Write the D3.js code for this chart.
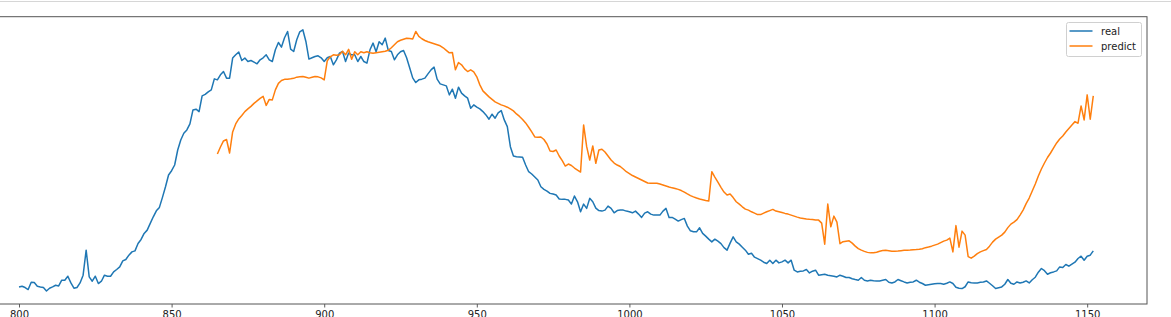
<!DOCTYPE html>
<html>
<head>
<meta charset="utf-8">
<script src="https://cdn.jsdelivr.net/npm/d3@7"></script>
<style>
  body { margin: 0; background: #fff; }
  svg { display: block; font-family: "DejaVu Sans", sans-serif; }
</style>
</head>
<body>
<div id="chart"></div>
<script>
// series values, one per index (real starts at 800, predict at 865)
var realStart = 800
var realValues = [
  13.3, 14, 12.7, 10.7, 18, 17.7, 14, 13.3, 12.7, 9.3,
  12, 13.3, 15, 14.3, 20, 20, 24, 17.3, 12, 12.7,
  17.3, 25, 50, 23.3, 19, 24, 16.7, 19, 25, 24,
  24, 28.3, 30.7, 33.3, 39.3, 40.7, 45, 48.3, 49.3, 56.7,
  60.7, 66.7, 70, 76.7, 83.3, 89.3, 92.7, 102.7, 113.3, 125,
  129.3, 135, 150, 160, 166.7, 170, 176, 190, 190.7, 188.3,
  204, 205.5, 208, 210, 221, 220, 225, 228.3, 221.7, 221.7,
  241.7, 245, 247.7, 239.3, 241.7, 238.3, 239.3, 237.7, 236, 240,
  242, 245, 240, 238.3, 250, 257.3, 252.7, 262, 268.3, 250.7,
  248.3, 260, 268, 270, 258.3, 240.7, 242, 243.3, 244, 242,
  238.3, 242, 243.3, 235, 240, 246.7, 248.3, 238.3, 246.7, 245,
  245, 238.3, 243.3, 238.3, 236.7, 250, 256.7, 248, 258, 255,
  261.7, 249.3, 248.3, 240, 245, 248, 249.3, 242, 232, 222,
  217.3, 220, 220.7, 221.7, 226, 230, 232.7, 220.7, 216, 215,
  214, 205, 210.7, 201.7, 212.7, 206.7, 204, 201.7, 191.7, 195,
  192.7, 191, 188.3, 185, 180.7, 185.7, 181.7, 187, 189.3, 180,
  173.3, 153.3, 144, 143.3, 143, 142.7, 135, 128.3, 126, 123,
  120, 113.3, 110.7, 109, 106.7, 106, 105, 101, 100.7, 100.7,
  100, 96, 104, 98.3, 88.3, 96, 91.7, 101.7, 98.3, 92,
  89.5, 89, 90, 94, 91.7, 87.3, 89.5, 90, 90, 89,
  88.3, 87.3, 89, 86, 82.7, 87, 88.3, 86, 85, 85,
  85, 89, 91.7, 82.7, 82.7, 81, 79, 80.5, 81.7, 74,
  69.3, 68.3, 68.3, 72.3, 66.7, 64, 61, 58.3, 61, 59,
  56.5, 52.5, 50, 57, 63.3, 58.3, 56, 53, 50, 46,
  47, 43, 41.5, 40, 38, 36.7, 40, 36.7, 40, 37.3,
  38.3, 40, 37.3, 40, 30, 28.3, 29, 29.3, 30.7, 27.3,
  29, 30, 25, 25.5, 26, 25, 24.5, 24, 23.3, 25,
  24, 22.7, 22.7, 21.5, 20.7, 20, 22.7, 20, 19.3, 20,
  19.5, 19.3, 19.3, 20, 20.7, 18, 17.3, 18.3, 20.7, 19.5,
  18.3, 17.3, 18, 18.3, 20, 18, 16.7, 15, 15.5, 16,
  16.5, 16.7, 16.7, 16, 17, 18.3, 16.7, 13, 12, 11.7,
  13.5, 18.3, 17.5, 17.3, 17.3, 18, 18.3, 19.3, 17, 14.5,
  11.7, 12.5, 13.3, 16, 20.7, 17, 16, 18.3, 17.3, 18,
  19.3, 17.3, 20.5, 23, 28, 31.7, 29.5, 26, 27.5, 28.3,
  29.3, 33.3, 32.7, 35.7, 34, 36, 38, 41.7, 44, 40,
  44, 45, 49.3
]

var predictStart = 865
var predictValues = [
  146, 153, 159, 160.5, 147, 168, 176, 181, 184.5, 188.3,
  191, 193.5, 196.5, 199, 201.5, 203.5, 194.5, 200.5, 200, 210,
  216.5, 219.3, 220.5, 220.7, 221, 221.5, 222.7, 223, 223.3, 222.5,
  221.7, 222.5, 223.3, 223, 222, 220, 239, 243, 245, 244.5,
  245, 248.5, 245, 250.5, 240.5, 248, 245, 248, 247, 248,
  247, 246.5, 247, 247.5, 248, 248.5, 249.5, 252, 255, 258,
  259.5, 260.5, 261.5, 261.2, 260.7, 268.3, 263.3, 261, 259.3, 258,
  257, 256, 255, 254, 252, 249.5, 247, 247.3, 230, 237.3,
  235, 231, 228.3, 230, 228, 223, 215, 209, 206, 203,
  200.5, 198, 196.5, 195, 194, 192.7, 191, 189, 186, 183.5,
  180.5, 177, 172.7, 168, 163, 162.7, 163, 160.5, 156, 149,
  148.5, 150, 144, 139.3, 134, 136, 134.5, 132, 130, 128,
  175, 153.3, 140, 154, 136.7, 150, 150.7, 148, 144, 140,
  137, 135, 133.5, 131, 128.3, 126.5, 124.5, 123, 121.5, 120,
  118.5, 117, 116.8, 116.7, 116.7, 116, 115, 114, 113, 112.2,
  111.5, 110.7, 109.5, 108, 106.2, 104.5, 103.2, 102, 101, 100.3,
  99.6, 99, 128.3, 123, 118, 112.7, 108, 105, 106, 102.5,
  98.3, 96, 93.3, 91, 90, 88.3, 87, 85.5, 85.5, 87,
  88.3, 89.5, 90.7, 89, 88.3, 87.5, 86.7, 86, 85, 84,
  83, 82.2, 81.7, 81.2, 80.8, 80.5, 80, 80, 77, 56,
  96, 73.3, 84, 78, 56.5, 58.5, 59, 59.3, 57, 54,
  51.5, 50, 48.8, 47.8, 47.3, 47.5, 48, 49, 49.7, 50,
  49.5, 49, 49, 49.2, 49.5, 49.8, 50, 50.2, 50.5, 50.7,
  51, 51.5, 52.5, 53.2, 54, 55, 56, 57.5, 59, 60,
  62, 48.3, 74.5, 53, 69, 65, 43.5, 42, 44, 46.5,
  48.3, 49.5, 50.7, 54, 58, 61, 63, 65, 68, 72.5,
  76, 78, 80.5, 85, 90, 96.5, 102, 109, 116, 124,
  131, 137, 142.5, 147, 152, 157, 161, 164, 168, 171.5,
  175, 178.3, 176.7, 194, 180, 205, 180.7, 204
]

var xTicks = [800, 850, 900, 950, 1000, 1050, 1100, 1150]
var seriesNames = ['real', 'predict']
var seriesColors = ['#1f77b4', '#ff7f0e']

var width = 1171
var height = 317
// axes box (left edge falls outside the cropped picture)
var box = { left: -34.7, right: 1147, top: 16.7, bottom: 304 }

var real = realValues.map((v, i) => ({ x: realStart + i, y: v }))
var predict = predictValues.map((v, i) => ({ x: predictStart + i, y: v }))

// matplotlib style 5% margins
const padExtent = ext => {
  var p = (ext[1] - ext[0]) * 0.05
  return [ext[0] - p, ext[1] + p]
}

var allPts = real.concat(predict)
var x = d3.scaleLinear()
  .domain(padExtent(d3.extent(allPts, d => d.x)))
  .range([box.left, box.right])
var y = d3.scaleLinear()
  .domain(padExtent(d3.extent(allPts, d => d.y)))
  .range([box.bottom, box.top])

var svg = d3.select('#chart').append('svg')
  .attr('width', width)
  .attr('height', height)

// thin notebook border line at the very top
svg.append('line')
  .attr('x1', 0).attr('x2', width)
  .attr('y1', 1.5).attr('y2', 1.5)
  .attr('stroke', '#d6d6d6')
  .attr('stroke-width', 1)

var line = d3.line()
  .x(d => x(d.x))
  .y(d => y(d.y))

svg.selectAll('path.series')
  .data([real, predict])
  .enter().append('path')
  .attr('class', 'series')
  .attr('d', line)
  .attr('fill', 'none')
  .attr('stroke', (d, i) => seriesColors[i])
  .attr('stroke-width', 1.5)
  .attr('stroke-linejoin', 'round')

// x axis
var xAxis = d3.axisBottom(x)
  .tickValues(xTicks)
  .tickSize(3.5)
  .tickPadding(3.5)
  .tickFormat(d3.format('d'))

var gx = svg.append('g')
  .attr('transform', 'translate(0,' + box.bottom + ')')
  .call(xAxis)
gx.select('.domain').remove()
gx.selectAll('.tick line').attr('stroke', '#333').attr('stroke-width', 0.8)
gx.selectAll('.tick text')
  .attr('fill', '#222')
  .style('font-size', '10px')
  .style('font-family', '"DejaVu Sans", sans-serif')

// spines
svg.append('rect')
  .attr('x', box.left)
  .attr('y', box.top)
  .attr('width', box.right - box.left)
  .attr('height', box.bottom - box.top)
  .attr('fill', 'none')
  .attr('stroke', '#555')
  .attr('stroke-width', 1)

// legend
var legend = svg.append('g')
  .attr('transform', 'translate(1066.5,22.5)')

legend.append('rect')
  .attr('width', 75)
  .attr('height', 34)
  .attr('rx', 2)
  .attr('fill', '#fff')
  .attr('fill-opacity', 0.8)
  .attr('stroke', '#d0d0d0')
  .attr('stroke-width', 1)

var item = legend.selectAll('g.item')
  .data(seriesNames)
  .enter().append('g')
  .attr('class', 'item')
  .attr('transform', (d, i) => 'translate(0,' + (8.5 + i * 15) + ')')

item.append('line')
  .attr('x1', 3).attr('x2', 26)
  .attr('stroke', (d, i) => seriesColors[i])
  .attr('stroke-width', 1.5)

item.append('text')
  .attr('x', 34.5)
  .attr('dy', '0.35em')
  .attr('fill', '#222')
  .style('font-size', '10px')
  .text(d => d)
</script>
</body>
</html>
